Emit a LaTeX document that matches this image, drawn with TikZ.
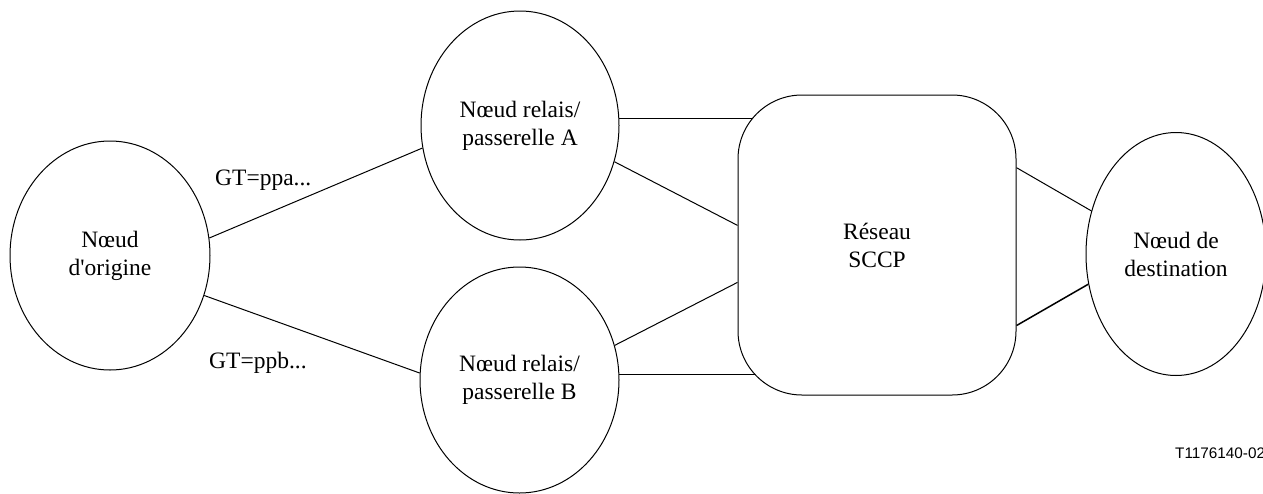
\documentclass[tikz,border=0pt]{standalone}
\usepackage{fontspec}
\setmainfont{Liberation Serif}[Ligatures=TeXOff]
\newfontfamily\labelsans{Liberation Sans}
\usetikzlibrary{shapes.geometric,backgrounds}
\begin{document}
\begin{tikzpicture}[x=1pt,y=-1pt,
  txt/.style={font=\fontsize{23.5}{28}\selectfont},
  oval/.style={draw, ellipse, line width=1pt, inner sep=0pt, align=center, txt},
  net/.style={draw, fill=white, rectangle, rounded corners=64pt, line width=1pt, inner sep=0pt, align=center, minimum width=278pt, minimum height=300pt, txt},
  link/.style={line width=1pt},
  gt/.style={anchor=base west, inner sep=0pt, txt}]
\useasboundingbox (0,0) rectangle (1263,493);
\node[oval, minimum width=200pt, minimum height=229pt] (o) at (110,255.5) {Nœud\\d'origine};
\node[oval, minimum width=198pt, minimum height=229pt] (a) at (520,125.5) {Nœud relais/\\passerelle A};
\node[oval, minimum width=199pt, minimum height=226pt] (b) at (519.5,380) {Nœud relais/\\passerelle B};
\node[net] (s) at (877,245) {Réseau\\SCCP};
\node[oval, minimum width=180pt, minimum height=243pt] (d) at (1176,254) {Nœud de\\destination};
\node[gt] (gta) at (215,185) {GT=ppa...};
\node[gt] (gtb) at (209,368) {GT=ppb...};
\node[anchor=base west, inner sep=0pt, font=\labelsans\fontsize{15.3}{18}\selectfont] (ref) at (1175,458) {T1176140-02};
\begin{scope}[on background layer]
\draw[link] (o.10) -- (a.193);
\draw[link] (o.-23) -- (b.176);
\draw[link] (a.4) -- (a.4 -| s.center);
\draw[link] (a.-21) -- (s.172);
\draw[link] (b.20) -- (s.195);
\draw[link] (b.3) -- (b.3 -| s.center);
\draw[link] (s.29) -- (d.153);
\draw[link, line width=1.5pt] (s.-30) -- (d.199);
\end{scope}
\end{tikzpicture}
\end{document}
